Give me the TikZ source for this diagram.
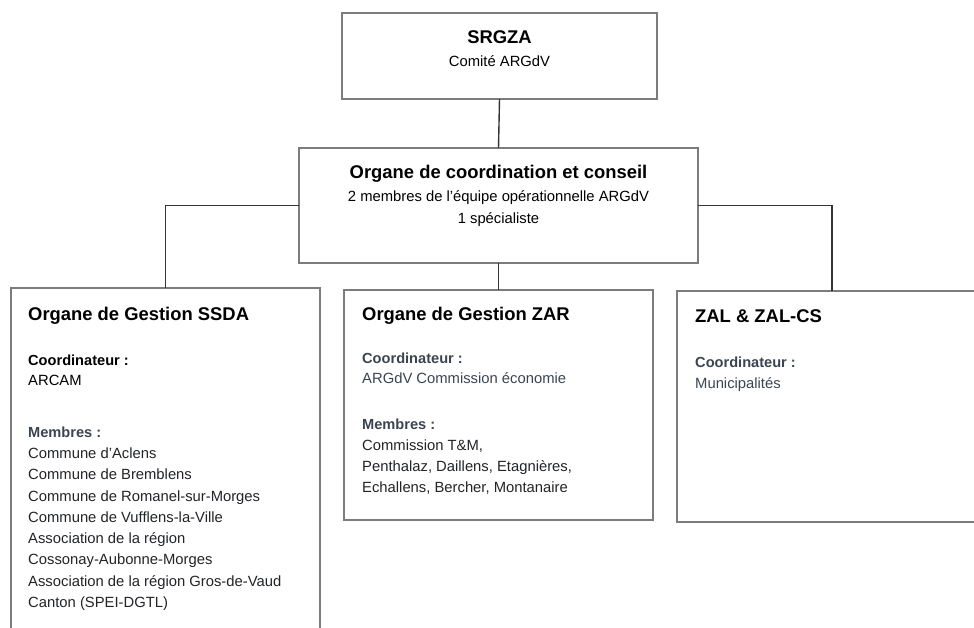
\documentclass[tikz,border=0pt]{standalone}
\usepackage{fontspec}
\setmainfont{Liberation Sans}
\definecolor{boxgrey}{HTML}{7C7C7C}
\definecolor{conngrey}{HTML}{353535}
\definecolor{slate}{HTML}{3B4552}
\definecolor{dark}{HTML}{222427}
\begin{document}
\begin{tikzpicture}[x=1pt,y=-1pt,
  box/.style={draw=boxgrey, line width=1.3pt, inner sep=0pt, outer sep=0pt, anchor=north west},
  conn/.style={draw=conngrey, line width=1.4pt},
  ttl/.style={font=\fontsize{18.4}{22}\selectfont\bfseries, inner sep=0pt, anchor=base west, text=black},
  sub/.style={font=\fontsize{14.6}{17}\selectfont\bfseries, inner sep=0pt, anchor=base west, text=slate},
  body/.style={font=\fontsize{14.8}{17}\selectfont, inner sep=0pt, anchor=base west, text=dark},
]
\useasboundingbox (0,0) rectangle (974,627);
\clip (0,0) rectangle (974,627);
\fill[white] (0,0) rectangle (974,627);

% boxes
\node[box, minimum width=315pt, minimum height=86pt] (srgza) at (342,13) {};
\node[box, minimum width=399pt, minimum height=115pt] (coord) at (299,148) {};
\node[box, minimum width=309pt, minimum height=420pt] (ssda) at (11,288) {};
\node[box, minimum width=309pt, minimum height=230pt] (zar) at (344,290) {};
\node[box, minimum width=310pt, minimum height=231pt] (zal) at (677,291) {};

% connectors
\draw[conn] (srgza.south) -- (coord.north);
\draw[conn] (coord.west) -| (ssda.north);
\draw[conn] (coord.south) -- (zar.north);
\draw[conn] (coord.east) -| (zal.north);

% top texts
\node[ttl, anchor=base] (t1) at (499.5,43) {SRGZA};
\node[body, anchor=base, text=black] (t2) at (499.5,66) {Comité ARGdV};
\node[ttl, anchor=base] (t3) at (498.5,178) {Organe de coordination et conseil};
\node[body, anchor=base, text=black] (t4) at (498.5,201) {2 membres de l'équipe opérationnelle ARGdV};
\node[body, anchor=base, text=black] (t5) at (498.5,223) {1 spécialiste};

% SSDA
\node[ttl] (s1) at (28,320) {Organe de Gestion SSDA};
\node[sub, text=black] (s2) at (28,365) {Coordinateur :};
\node[body, text=black] (s3) at (28,385) {ARCAM};
\node[sub] (s4) at (28,437) {Membres :};
\foreach \txt [count=\i from 0] in {Commune d'Aclens, Commune de Bremblens, Commune de Romanel-sur-Morges, Commune de Vufflens-la-Ville, Association de la région, Cossonay-Aubonne-Morges, Association de la région Gros-de-Vaud, Canton (SPEI-DGTL)}
  \node[body, name=sm\i] at (28,458.5+21.25*\i) {\txt};

% ZAR
\node[ttl] (z1) at (362,320) {Organe de Gestion ZAR};
\node[sub] (z2) at (362,363) {Coordinateur :};
\node[body, text=slate] (z3) at (362,383) {ARGdV Commission économie};
\node[sub] (z4) at (362,429) {Membres :};
\node[body] (z5) at (362,450) {Commission T\&M,};
\node[body] (z6) at (362,471) {Penthalaz, Daillens, Etagnières,};
\node[body] (z7) at (362,492) {Echallens, Bercher, Montanaire};

% ZAL
\node[ttl] (a1) at (695,322) {ZAL \& ZAL-CS};
\node[sub] (a2) at (695,367) {Coordinateur :};
\node[body, text=slate] (a3) at (695,388) {Municipalités};
\end{tikzpicture}
\end{document}
